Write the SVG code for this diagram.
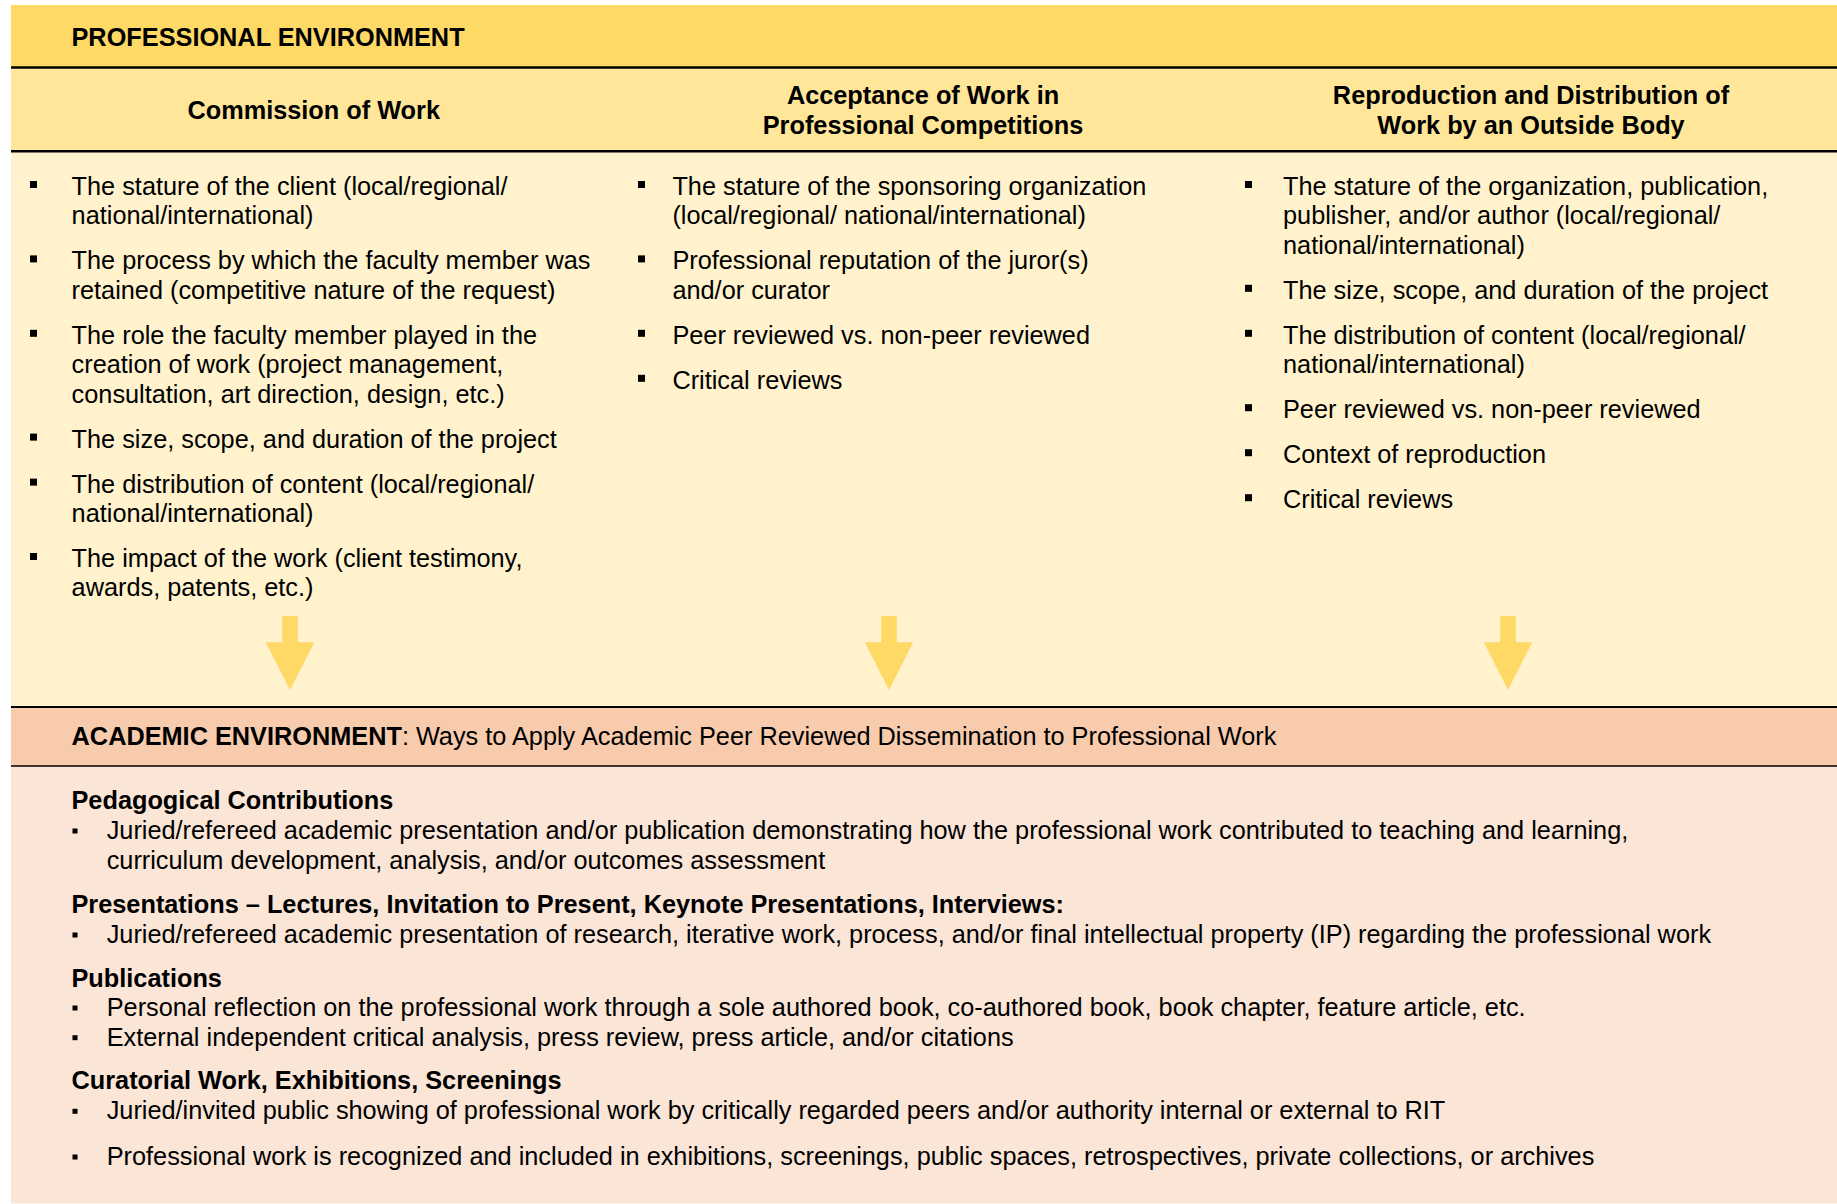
<svg xmlns="http://www.w3.org/2000/svg" xmlns:xlink="http://www.w3.org/1999/xlink" width="1837" height="1204" viewBox="0 0 1837 1204">
<style>
  .t { font-family: "Liberation Sans", Arial, sans-serif; font-size: 25.3px; fill: #000; }
  .b { font-weight: bold; }
  .c { text-anchor: middle; }
  .rule { stroke: #000; fill: none; }
  .arrow { fill: #FFD966; stroke: none; }
</style>
<defs>
  <rect id="sq" width="7" height="7" fill="#000"/>
  <rect id="sqs" width="5" height="5" fill="#000"/>
</defs>

<g id="professional-banner">
  <rect x="11" y="5" width="1826" height="63" fill="#FFD966"/>
  <text class="t b" x="71.5" y="45.5">PROFESSIONAL ENVIRONMENT</text>
</g>

<g id="column-headers">
  <rect x="11" y="68" width="1826" height="84" fill="#FFE699"/>
  <text class="t b c" x="313.7" y="118.7">Commission of Work</text>
  <text class="t b c" x="923" y="104">Acceptance of Work in</text>
  <text class="t b c" x="923" y="133.5">Professional Competitions</text>
  <text class="t b c" x="1531" y="104">Reproduction and Distribution of</text>
  <text class="t b c" x="1531" y="133.5">Work by an Outside Body</text>
</g>

<rect x="11" y="152" width="1826" height="555" fill="#FFF2CC"/>

<g id="col-commission">
  <use xlink:href="#sq" x="30" y="181"/>
  <text class="t" x="71.6" y="195">The stature of the client (local/regional/</text>
  <text class="t" x="71.6" y="224.4">national/international)</text>
  <use xlink:href="#sq" x="30" y="255.4"/>
  <text class="t" x="71.6" y="269.4">The process by which the faculty member was</text>
  <text class="t" x="71.6" y="298.8">retained (competitive nature of the request)</text>
  <use xlink:href="#sq" x="30" y="329.8"/>
  <text class="t" x="71.6" y="343.8">The role the faculty member played in the</text>
  <text class="t" x="71.6" y="373.2">creation of work (project management,</text>
  <text class="t" x="71.6" y="402.6">consultation, art direction, design, etc.)</text>
  <use xlink:href="#sq" x="30" y="433.6"/>
  <text class="t" x="71.6" y="447.6">The size, scope, and duration of the project</text>
  <use xlink:href="#sq" x="30" y="478.6"/>
  <text class="t" x="71.6" y="492.6">The distribution of content (local/regional/</text>
  <text class="t" x="71.6" y="522">national/international)</text>
  <use xlink:href="#sq" x="30" y="553"/>
  <text class="t" x="71.6" y="567">The impact of the work (client testimony,</text>
  <text class="t" x="71.6" y="596.4">awards, patents, etc.)</text>
</g>

<g id="col-competitions">
  <use xlink:href="#sq" x="638" y="181"/>
  <text class="t" x="672.4" y="195">The stature of the sponsoring organization</text>
  <text class="t" x="672.4" y="224.4">(local/regional/ national/international)</text>
  <use xlink:href="#sq" x="638" y="255.4"/>
  <text class="t" x="672.4" y="269.4">Professional reputation of the juror(s)</text>
  <text class="t" x="672.4" y="298.8">and/or curator</text>
  <use xlink:href="#sq" x="638" y="329.8"/>
  <text class="t" x="672.4" y="343.8">Peer reviewed vs. non-peer reviewed</text>
  <use xlink:href="#sq" x="638" y="374.8"/>
  <text class="t" x="672.4" y="388.8">Critical reviews</text>
</g>

<g id="col-reproduction">
  <use xlink:href="#sq" x="1245" y="181"/>
  <text class="t" x="1283" y="195">The stature of the organization, publication,</text>
  <text class="t" x="1283" y="224.4">publisher, and/or author (local/regional/</text>
  <text class="t" x="1283" y="253.8">national/international)</text>
  <use xlink:href="#sq" x="1245" y="284.8"/>
  <text class="t" x="1283" y="298.8">The size, scope, and duration of the project</text>
  <use xlink:href="#sq" x="1245" y="329.8"/>
  <text class="t" x="1283" y="343.8">The distribution of content (local/regional/</text>
  <text class="t" x="1283" y="373.2">national/international)</text>
  <use xlink:href="#sq" x="1245" y="404.2"/>
  <text class="t" x="1283" y="418.2">Peer reviewed vs. non-peer reviewed</text>
  <use xlink:href="#sq" x="1245" y="449.2"/>
  <text class="t" x="1283" y="463.2">Context of reproduction</text>
  <use xlink:href="#sq" x="1245" y="494.2"/>
  <text class="t" x="1283" y="508.2">Critical reviews</text>
</g>

<g id="connectors">
  <polygon class="arrow" points="282.2,616 297.8,616 297.8,642.3 314.2,642.3 290,690 265.8,642.3 282.2,642.3"/>
  <polygon class="arrow" points="881.2,616 896.8,616 896.8,642.3 913.2,642.3 889,690 864.8,642.3 881.2,642.3"/>
  <polygon class="arrow" points="1500.2,616 1515.8,616 1515.8,642.3 1532.2,642.3 1508,690 1483.8,642.3 1500.2,642.3"/>
</g>

<g id="academic-header">
  <rect x="11" y="707" width="1826" height="59" fill="#F8CBAD"/>
  <text class="t" x="71.6" y="745"><tspan class="b">ACADEMIC ENVIRONMENT</tspan>: Ways to Apply Academic Peer Reviewed Dissemination to Professional Work</text>
</g>

<g id="academic-body">
  <rect x="11" y="766" width="1826" height="437.5" fill="#FBE5D6"/>
  <text class="t b" x="71.5" y="809">Pedagogical Contributions</text>
  <use xlink:href="#sqs" x="72.5" y="828.5"/>
  <text class="t" x="106.7" y="839">Juried/refereed academic presentation and/or publication demonstrating how the professional work contributed to teaching and learning,</text>
  <text class="t" x="106.7" y="868.5">curriculum development, analysis, and/or outcomes assessment</text>
  <text class="t b" x="71.5" y="913">Presentations – Lectures, Invitation to Present, Keynote Presentations, Interviews:</text>
  <use xlink:href="#sqs" x="72.5" y="932.5"/>
  <text class="t" x="106.7" y="943">Juried/refereed academic presentation of research, iterative work, process, and/or final intellectual property (IP) regarding the professional work</text>
  <text class="t b" x="71.5" y="986.5">Publications</text>
  <use xlink:href="#sqs" x="72.5" y="1005.5"/>
  <text class="t" x="106.7" y="1016">Personal reflection on the professional work through a sole authored book, co-authored book, book chapter, feature article, etc.</text>
  <use xlink:href="#sqs" x="72.5" y="1035.2"/>
  <text class="t" x="106.7" y="1045.7">External independent critical analysis, press review, press article, and/or citations</text>
  <text class="t b" x="71.5" y="1088.7">Curatorial Work, Exhibitions, Screenings</text>
  <use xlink:href="#sqs" x="72.5" y="1108.8"/>
  <text class="t" x="106.7" y="1119.3">Juried/invited public showing of professional work by critically regarded peers and/or authority internal or external to RIT</text>
  <use xlink:href="#sqs" x="72.5" y="1154.5"/>
  <text class="t" x="106.7" y="1165">Professional work is recognized and included in exhibitions, screenings, public spaces, retrospectives, private collections, or archives</text>
</g>

<g id="rules">
  <line class="rule" x1="11" y1="67.5" x2="1837" y2="67.5" stroke-width="2.5"/>
  <line class="rule" x1="11" y1="151.3" x2="1837" y2="151.3" stroke-width="2.5"/>
  <line class="rule" x1="11" y1="707" x2="1837" y2="707" stroke-width="2"/>
  <line class="rule" x1="11" y1="766" x2="1837" y2="766" stroke-width="1.3"/>
</g>
</svg>
